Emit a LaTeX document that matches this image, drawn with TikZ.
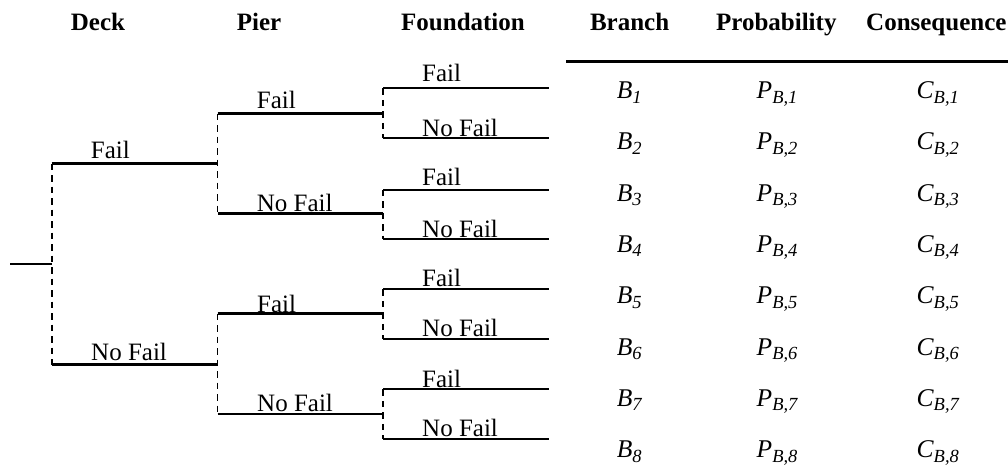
\documentclass[tikz,border=0pt]{standalone}
\usepackage{fontspec}
\setmainfont{Liberation Serif}
% lowered, smaller italic subscript used in the table entries
\newcommand\lowsub[1]{\raisebox{-4.5pt}{\fontsize{18.5}{18.5}\selectfont\itshape #1}}
\begin{document}
\begin{tikzpicture}[x=1pt,y=-1pt,
  branch/.style={line width=2.1pt},
  split/.style={line width=1.9pt, dash pattern=on 6.5pt off 5pt},
  lbl/.style={anchor=base west, inner sep=0pt, font=\fontsize{25}{30}\selectfont},
  head/.style={anchor=base, inner sep=0pt, font=\fontsize{25}{30}\selectfont\bfseries},
  cell/.style={anchor=base west, inner sep=0pt, font=\fontsize{25.5}{30}\selectfont\itshape}]
\useasboundingbox (0,0) rectangle (1008,466);

% column headings
\node[head] (hdeck) at (98,30) {Deck};
\node[head] (hpier) at (259,30) {Pier};
\node[head] (hfound) at (463,30) {Foundation};
\node[head] (hbranch) at (629.6,30) {Branch};
\node[head] (hprob) at (776.3,30) {Probability};
\node[head, anchor=base west] (hcons) at (866,30) {Consequence};

% rule under the table headings
\coordinate (ruleL) at (566,61.7);
\coordinate (ruleR) at (1008,61.7);
\draw[line width=2.8pt] (ruleL) -- (ruleR);

% tree junctions
\coordinate (start) at (10,264);
\coordinate (D)   at (51.7,264);
\coordinate (D1)  at (51.7,163.5);
\coordinate (D2)  at (51.7,364.5);
\coordinate (P1)  at (217.5,163.5);
\coordinate (P2)  at (217.5,364.5);
\coordinate (P11) at (217.5,113.5);
\coordinate (P12) at (217.5,213.5);
\coordinate (P21) at (217.5,313.5);
\coordinate (P22) at (217.5,414);
\coordinate (F11) at (383,113.5);
\coordinate (F12) at (383,213.5);
\coordinate (F21) at (383,313.5);
\coordinate (F22) at (383,414);
\coordinate (F11a) at (383,88.3);
\coordinate (F11b) at (383,137.8);
\coordinate (F12a) at (383,189.7);
\coordinate (F12b) at (383,238.7);
\coordinate (F21a) at (383,289.3);
\coordinate (F21b) at (383,339);
\coordinate (F22a) at (383,389.3);
\coordinate (F22b) at (383,439);
\coordinate (L1) at (548.5,88.3);
\coordinate (L2) at (548.5,137.8);
\coordinate (L3) at (548.5,189.7);
\coordinate (L4) at (548.5,238.7);
\coordinate (L5) at (548.5,289.3);
\coordinate (L6) at (548.5,339);
\coordinate (L7) at (548.5,389.3);
\coordinate (L8) at (548.5,439);

% deck level
\draw[branch] (start) -- (D);
\draw[split] (D1) -- (D2);
\draw[branch] (D1) -- (P1);
\draw[branch] (D2) -- (P2);

% pier level
\draw[split] (P11) -- (P12);
\draw[split] (P21) -- (P22);
\draw[branch] (P11) -- (F11);
\draw[branch] (P12) -- (F12);
\draw[branch] (P21) -- (F21);
\draw[branch] (P22) -- (F22);

% foundation level
\draw[split] (F11a) -- (F11b);
\draw[split] (F12a) -- (F12b);
\draw[split] (F21a) -- (F21b);
\draw[split] (F22a) -- (F22b);
\draw[branch] (F11a) -- (L1);
\draw[branch] (F11b) -- (L2);
\draw[branch] (F12a) -- (L3);
\draw[branch] (F12b) -- (L4);
\draw[branch] (F21a) -- (L5);
\draw[branch] (F21b) -- (L6);
\draw[branch] (F22a) -- (L7);
\draw[branch] (F22b) -- (L8);

% branch labels
\node[lbl] (dF)  at (90.7,158) {Fail};
\node[lbl] (dN)  at (91,360.7) {No Fail};
\node[lbl] (p1F) at (256.7,108.5) {Fail};
\node[lbl] (p1N) at (256.7,211.7) {No Fail};
\node[lbl] (p2F) at (257,312) {Fail};
\node[lbl] (p2N) at (257,411.5) {No Fail};
\node[lbl] (f1F) at (422,81.7) {Fail};
\node[lbl] (f1N) at (422,136) {No Fail};
\node[lbl] (f2F) at (422,185) {Fail};
\node[lbl] (f2N) at (422,237.5) {No Fail};
\node[lbl] (f3F) at (422,286.7) {Fail};
\node[lbl] (f3N) at (422,336) {No Fail};
\node[lbl] (f4F) at (422,387.3) {Fail};
\node[lbl] (f4N) at (422,436.7) {No Fail};

% table rows
\foreach \i [evaluate=\i as \y using {98.5+51.3*(\i-1)}] in {1,...,8} {
  \node[cell] (b\i) at (616.7,\y) {B\lowsub{\i}};
  \node[cell] (p\i) at (756.5,\y) {P\lowsub{B,\i}};
  \node[cell] (c\i) at (916.5,\y) {C\lowsub{B,\i}};
}
\end{tikzpicture}
\end{document}
